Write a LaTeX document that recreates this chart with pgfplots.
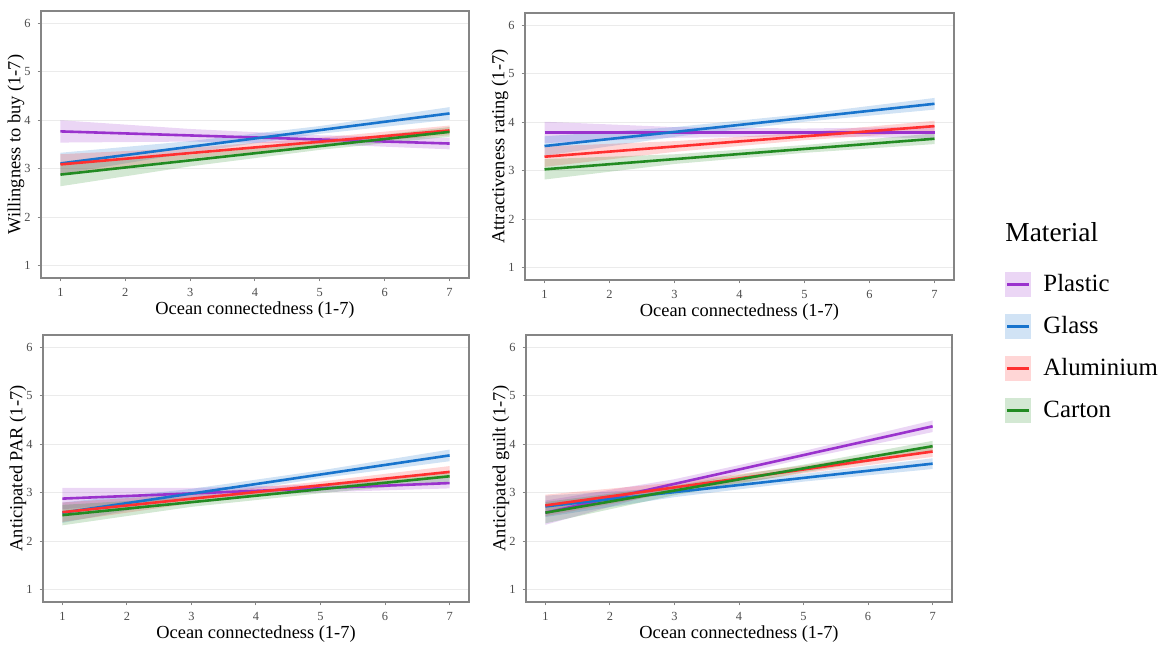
\documentclass[border=0pt]{standalone}
\usepackage{pgfplots}
\pgfplotsset{compat=1.18}
\usepackage{fontspec}
\setmainfont{Liberation Serif}

\definecolor{plastic}{HTML}{9A32CD}
\definecolor{glass}{HTML}{1874CD}
\definecolor{aluminium}{HTML}{FF3030}
\definecolor{carton}{HTML}{228B22}
\definecolor{framegray}{HTML}{858585}
\definecolor{tickgray}{HTML}{4D4D4D}
\definecolor{gridgray}{HTML}{EBEBEB}

\pgfplotsset{
  panel/.style={
    scale only axis, width=214pt, height=133.5pt,
    anchor=south west,
    xmin=0.7, xmax=7.3, ymin=0.75, ymax=6.25,
    xtick={1,...,7}, ytick={1,...,6},
    xtick pos=bottom, ytick pos=left,
    tick align=outside, major tick length=1.7pt,
    axis line style={draw=framegray, line width=0.6pt},
    every tick/.style={draw=framegray, line width=0.5pt},
    ymajorgrids, grid style={draw=gridgray, line width=0.5pt},
    tick label style={font=\fontsize{6.2}{7}\selectfont, text=tickgray},
    /pgf/number format/assume math mode=true,
    xlabel={Ocean connectedness (1-7)},
    label style={font=\fontsize{9.2}{10}\selectfont},
    xlabel style={at={(axis description cs:0.5,0)}, anchor=center, yshift=-16pt},
    ylabel style={at={(axis description cs:0,0.5)}, anchor=center, yshift=12.5pt},
    legend image code/.code={
      \fill[#1, fill opacity=0.2, draw=none] (0pt,-6.25pt) rectangle (13pt,6.25pt);
      \draw[#1, line width=1.5pt] (1pt,0pt) -- (12pt,0pt);
    },
  },
  band/.style={fill=#1, fill opacity=0.2, draw=none, forget plot},
  fit/.style={color=#1, line width=1.3pt, forget plot},
}

\begin{document}
\begin{tikzpicture}
\useasboundingbox (0,0) rectangle (580.5pt,322pt);

% ---------------- Willingness to buy ----------------
\begin{axis}[panel, at={(20.5pt,183pt)}, ylabel={Willingness to buy (1-7)}]
\addplot[band=plastic] coordinates {(1,4.00) (3,3.82) (5,3.69) (7,3.64) (7,3.40) (5,3.51) (3,3.56) (1,3.54)} -- cycle;
\addplot[band=glass] coordinates {(1,3.33) (3,3.57) (5,3.88) (7,4.27) (7,4.01) (5,3.72) (3,3.33) (1,2.89)} -- cycle;
\addplot[band=aluminium] coordinates {(1,3.30) (3,3.43) (5,3.64) (7,3.89) (7,3.69) (5,3.48) (3,3.21) (1,2.88)} -- cycle;
\addplot[band=carton] coordinates {(1,3.12) (3,3.29) (5,3.55) (7,3.86) (7,3.66) (5,3.39) (3,3.05) (1,2.64)} -- cycle;
\addplot[fit=plastic] coordinates {(1,3.77) (7,3.52)};
\addplot[fit=glass] coordinates {(1,3.11) (7,4.14)};
\addplot[fit=aluminium] coordinates {(1,3.09) (7,3.79)};
\addplot[fit=carton] coordinates {(1,2.88) (7,3.76)};
\end{axis}

% ---------------- Attractiveness rating ----------------
\begin{axis}[panel, at={(262.5pt,182pt)}, width=214.5pt, ylabel={Attractiveness rating (1-7)},
  legend style={draw=none, fill=none, inner xsep=0pt, inner ysep=0pt,
    at={(axis description cs:1.1190,0.0385)}, anchor=north west,
    row sep=7pt, column sep=4pt,
    nodes={inner sep=2pt, font=\fontsize{12.4}{13}\selectfont}},
  legend cell align=left]
\addplot[band=plastic] coordinates {(1,4.01) (3,3.90) (5,3.87) (7,3.91) (7,3.67) (5,3.71) (3,3.68) (1,3.57)} -- cycle;
\addplot[band=glass] coordinates {(1,3.71) (3,3.90) (5,4.17) (7,4.50) (7,4.26) (5,4.01) (3,3.70) (1,3.31)} -- cycle;
\addplot[band=aluminium] coordinates {(1,3.50) (3,3.61) (5,3.79) (7,4.03) (7,3.81) (5,3.63) (3,3.39) (1,3.08)} -- cycle;
\addplot[band=carton] coordinates {(1,3.24) (3,3.34) (5,3.53) (7,3.77) (7,3.55) (5,3.37) (3,3.14) (1,2.82)} -- cycle;
\addplot[fit=plastic] coordinates {(1,3.79) (7,3.79)};
\addplot[fit=glass] coordinates {(1,3.51) (7,4.38)};
\addplot[fit=aluminium] coordinates {(1,3.29) (7,3.92)};
\addplot[fit=carton] coordinates {(1,3.03) (7,3.66)};
\addlegendimage{color=plastic}\addlegendentry{Plastic}
\addlegendimage{color=glass}\addlegendentry{Glass}
\addlegendimage{color=aluminium}\addlegendentry{Aluminium}
\addlegendimage{color=carton}\addlegendentry{Carton}
\end{axis}

% ---------------- Anticipated PAR ----------------
\begin{axis}[panel, at={(21.5pt,21pt)}, width=213pt, ylabel={Anticipated PAR (1-7)}]
\addplot[band=plastic] coordinates {(1,3.10) (3,3.10) (5,3.17) (7,3.31) (7,3.09) (5,3.01) (3,2.88) (1,2.66)} -- cycle;
\addplot[band=glass] coordinates {(1,2.80) (3,3.08) (5,3.46) (7,3.89) (7,3.65) (5,3.30) (3,2.88) (1,2.38)} -- cycle;
\addplot[band=aluminium] coordinates {(1,2.80) (3,2.98) (5,3.23) (7,3.55) (7,3.31) (5,3.07) (3,2.78) (1,2.40)} -- cycle;
\addplot[band=carton] coordinates {(1,2.75) (3,2.91) (5,3.15) (7,3.45) (7,3.23) (5,2.99) (3,2.71) (1,2.33)} -- cycle;
\addplot[fit=plastic] coordinates {(1,2.88) (7,3.20)};
\addplot[fit=glass] coordinates {(1,2.59) (7,3.77)};
\addplot[fit=aluminium] coordinates {(1,2.60) (7,3.43)};
\addplot[fit=carton] coordinates {(1,2.54) (7,3.34)};
\end{axis}

% ---------------- Anticipated guilt ----------------
\begin{axis}[panel, at={(263pt,21pt)}, width=213pt, ylabel={Anticipated guilt (1-7)}]
\addplot[band=plastic] coordinates {(1,2.84) (3,3.28) (5,3.86) (7,4.49) (7,4.25) (5,3.70) (3,3.08) (1,2.34)} -- cycle;
\addplot[band=glass] coordinates {(1,2.94) (3,3.11) (5,3.39) (7,3.71) (7,3.49) (5,3.23) (3,2.91) (1,2.50)} -- cycle;
\addplot[band=aluminium] coordinates {(1,2.96) (3,3.21) (5,3.56) (7,3.96) (7,3.74) (5,3.40) (3,3.01) (1,2.52)} -- cycle;
\addplot[band=carton] coordinates {(1,2.81) (3,3.15) (5,3.58) (7,4.07) (7,3.85) (5,3.42) (3,2.95) (1,2.37)} -- cycle;
\addplot[fit=plastic] coordinates {(1,2.59) (7,4.37)};
\addplot[fit=glass] coordinates {(1,2.72) (7,3.60)};
\addplot[fit=aluminium] coordinates {(1,2.74) (7,3.85)};
\addplot[fit=carton] coordinates {(1,2.59) (7,3.96)};
\end{axis}

% legend title
\node[anchor=west, inner sep=0pt, font=\fontsize{13.7}{15}\selectfont] at (502.5pt,206pt) {Material};
\end{tikzpicture}
\end{document}
